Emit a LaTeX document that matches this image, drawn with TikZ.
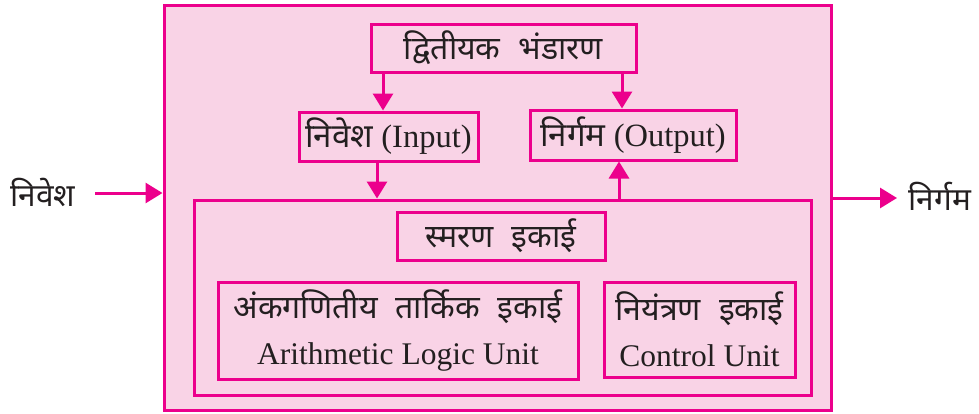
\documentclass[tikz,border=0pt]{standalone}
\usepackage{fontspec}
\setmainfont{Liberation Serif}
\newfontfamily\deva[Script=Devanagari,Scale=1.02]{Noto Sans}
\usetikzlibrary{arrows.meta}
\definecolor{mag}{HTML}{EC008C}
\definecolor{pinkfill}{HTML}{F9D3E6}
\definecolor{ink}{HTML}{231F20}
\newcommand\wgap{\hspace{18pt}}
\begin{document}
\begin{tikzpicture}[x=1pt,y=-1pt,
  box/.style={draw=mag, line width=3pt, fill=pinkfill, inner sep=0pt, text=ink,
    font=\fontsize{31.5}{46}\selectfont, align=center},
  big/.style={font=\fontsize{32.5}{46}\selectfont},
  arr/.style={draw=mag, line width=3pt, -{Triangle[length=17pt,width=20pt]}},
  lbl/.style={text=ink, font=\fontsize{31}{36}\selectfont, inner sep=0pt}]
\useasboundingbox (0,0) rectangle (979,413);
\node[box, minimum width=667pt, minimum height=405pt] (outer) at (497.5,207.5) {};
\node[box, minimum width=617pt, minimum height=195pt] (inner) at (502.5,297.5) {};
\node[box, minimum width=265pt, minimum height=48pt] (sec) at (503.5,48) {\deva द्वितीयक\wgap भंडारण};
\node[box, big, minimum width=179pt, minimum height=49pt] (inp) at (388.5,136.5) {{\deva निवेश} (Input)};
\node[box, big, minimum width=206pt, minimum height=50pt] (outp) at (633,135) {{\deva निर्गम} (Output)};
\node[box, minimum width=208pt, minimum height=48pt] (mem) at (501,236) {\deva स्मरण\wgap इकाई};
\node[box, minimum width=360pt, minimum height=97pt] (alu) at (398,330.5) {{\deva अंकगणितीय\wgap तार्किक\wgap इकाई}\\Arithmetic Logic Unit};
\node[box, minimum width=191pt, minimum height=95pt] (cu) at (699.5,329.5) {{\deva नियंत्रण\wgap इकाई}\\Control Unit};
\draw[arr] ([xshift=-5.5pt]inp.north |- sec.south) -- ([xshift=-5.5pt]inp.north);
\draw[arr] ([xshift=-11pt]outp.north |- sec.south) -- ([xshift=-11pt]outp.north);
\draw[arr] ([xshift=-11.5pt]inp.south) -- ([xshift=-11.5pt]inp.south |- inner.north);
\draw[arr] ([xshift=-14pt]outp.south |- inner.north) -- ([xshift=-14pt]outp.south);
\coordinate (a) at (95,193);
\coordinate (b) at (897,198);
\draw[arr] (a) -- (a -| outer.west);
\draw[arr] (outer.east |- b) -- (b);
\node[lbl] (inlbl) at (43,192) {\deva निवेश};
\node[lbl] (outlbl) at (940,196) {\deva निर्गम};
\end{tikzpicture}
\end{document}
